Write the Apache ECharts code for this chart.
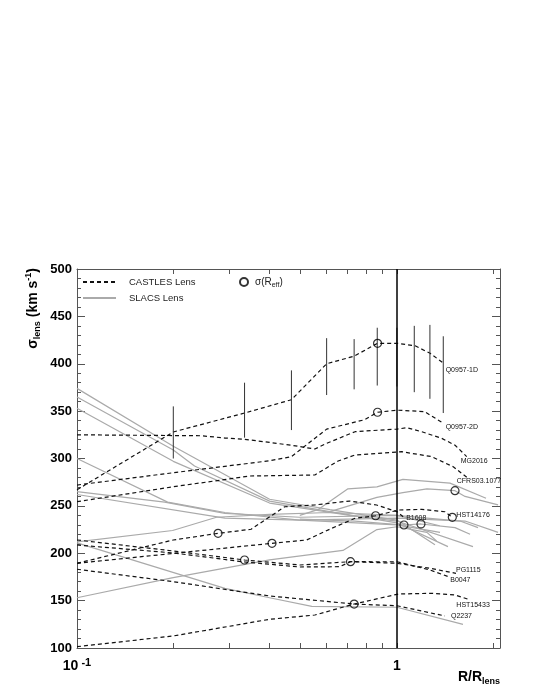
<!DOCTYPE html>
<html>
<head>
<meta charset="utf-8">
<script src="https://cdn.jsdelivr.net/npm/echarts@6/dist/echarts.min.js"></script>
<style>
html, body { margin: 0; padding: 0; background: #fff; }
#chart { width: 540px; height: 699px; }
</style>
</head>
<body>
<div id="chart"></div>
<script>
// CASTLES lenses: [R/Rlens, sigma]
const q0957_1D = [[0.1, 267], [0.2, 328], [0.334, 348], [0.468, 362], [0.603, 400], [0.735, 408], [0.87, 421.6], [1.0, 421.6], [1.14, 419], [1.27, 411], [1.4, 400.5]];
const q0957_2D = [[0.1, 272], [0.2, 285], [0.4, 297.6], [0.468, 302], [0.603, 331], [0.794, 341], [0.87, 348.8], [1.0, 351], [1.22, 349.5], [1.4, 337]];
const mg2016 = [[0.1, 325], [0.245, 324], [0.29, 321.6], [0.334, 320.3], [0.468, 314], [0.554, 310], [0.603, 316], [0.74, 328.3], [0.885, 330], [1.0, 331], [1.073, 332.5], [1.195, 328.3], [1.38, 321.3], [1.52, 314], [1.653, 302]];
const cfrs03 = [[0.1, 254.4], [0.2, 270.2], [0.347, 281.5], [0.554, 282.6], [0.655, 297.4], [0.74, 303.7], [1.034, 307.2], [1.283, 302], [1.5, 291.3], [1.653, 280.2]];
const hst14176 = [[0.1, 189.4], [0.407, 210.5], [0.522, 214], [0.625, 226.3], [0.74, 236.9], [0.858, 239.6], [1.011, 245.6], [1.195, 246.3], [1.413, 243.8], [1.49, 237.9]];
const b1608 = [[0.1, 189.4], [0.2, 214], [0.276, 221], [0.35, 225.3], [0.446, 249.1], [0.554, 251], [0.71, 255.1], [0.864, 250.9], [1.0, 243.9], [1.046, 238.6]];
const pg1115 = [[0.1, 214], [0.2, 202.4], [0.334, 192.9], [0.497, 187.6], [0.716, 191.1], [1.0, 189.4], [1.269, 184.1], [1.53, 178.8]];
const b0047 = [[0.1, 208.7], [0.2, 200.3], [0.334, 190.8], [0.497, 185.5], [0.663, 185.8], [0.716, 191.1], [1.0, 191], [1.269, 182.3], [1.447, 175.3]];
const hst15433 = [[0.1, 101.4], [0.2, 112.7], [0.4, 130.3], [0.554, 134.8], [0.735, 146.4], [1.011, 157], [1.283, 157.7], [1.519, 155.9], [1.672, 151.4]];
const q2237 = [[0.1, 183.1], [0.2, 170], [0.4, 154.9], [0.735, 146.4], [1.0, 144.6], [1.413, 133.8]];

// SLACS lenses
const slacs1 = [[0.1, 374], [0.2, 313], [0.4, 257], [0.617, 246], [1.0, 235], [1.315, 209]];
const slacs2 = [[0.1, 365], [0.2, 309], [0.233, 292], [0.4, 255], [0.617, 244], [1.0, 232], [1.444, 207]];
const slacs3 = [[0.1, 353], [0.2, 297], [0.4, 253], [0.713, 240], [1.0, 234], [1.729, 207]];
const slacs4 = [[0.1, 300], [0.192, 254], [0.29, 243], [0.497, 235], [1.0, 230], [1.364, 222]];
const slacs5 = [[0.1, 265], [0.188, 254], [0.29, 242], [0.497, 238], [1.0, 240], [1.575, 234], [1.793, 227]];
const slacs6 = [[0.1, 262], [0.29, 237], [0.497, 235], [1.0, 237], [1.633, 234], [2.071, 222]];
const slacs7 = [[0.1, 212], [0.199, 224], [0.273, 238], [0.4, 241], [0.617, 243], [1.0, 240], [1.36, 229]];
const slacs8 = [[0.1, 211], [0.29, 163], [0.4, 153], [0.542, 144], [1.0, 143], [1.609, 125]];
const slacs9 = [[0.1, 153], [0.198, 174], [0.4, 193], [0.678, 203], [0.866, 225], [1.0, 228], [1.241, 222], [1.33, 213]];
const slacs10 = [[0.497, 240], [0.566, 246], [0.703, 268], [0.866, 270], [1.044, 278], [1.465, 274], [1.899, 258]];
const slacs11 = [[0.617, 244], [0.866, 259], [1.044, 264], [1.241, 268], [1.519, 266], [1.633, 260], [2.071, 251]];
const slacs12 = [[0.497, 236], [0.739, 234], [1.052, 229.8], [1.189, 230.9], [1.519, 227], [1.693, 220]];

// sigma(R_eff) points
const effPoints = [[0.87, 421.6], [0.87, 348.8], [0.276, 221], [0.407, 210.5], [0.334, 192.9], [0.716, 191.1], [0.735, 146.4], [0.858, 239.6], [1.052, 229.8], [1.189, 230.9], [1.519, 266], [1.49, 237.9]];

// Q0957-1D error bars: [R, low, high]
const errBars = [[0.2, 300, 355], [0.334, 322, 380], [0.468, 330, 393], [0.603, 367, 427], [0.735, 373, 426], [0.868, 377, 438], [1.0, 376, 438], [1.133, 370, 440], [1.268, 363, 441], [1.396, 348, 429]];

const xTickVals = [0.1, 0.2, 0.3, 0.4, 0.5, 0.6, 0.7, 0.8, 0.9, 1, 2];
const xLabelVals = [0.1, 1];

const castles = [
    { name: 'Q0957-1D', data: q0957_1D },
    { name: 'Q0957-2D', data: q0957_2D },
    { name: 'MG2016', data: mg2016 },
    { name: 'CFRS03.1077', data: cfrs03 },
    { name: 'HST14176', data: hst14176 },
    { name: 'B1608', data: b1608 },
    { name: 'PG1115', data: pg1115 },
    { name: 'B0047', data: b0047 },
    { name: 'HST15433', data: hst15433 },
    { name: 'Q2237', data: q2237 }
];
const slacs = [slacs1, slacs2, slacs3, slacs4, slacs5, slacs6, slacs7, slacs8, slacs9, slacs10, slacs11, slacs12];

// where the lens names sit relative to the line ends
const labelOffsets = {
    'Q0957-1D': [2, 7],
    'Q0957-2D': [2, 4],
    'MG2016': [-6, 4],
    'CFRS03.1077': [-10, 4],
    'HST14176': [4, -2],
    'B1608': [3, 1],
    'PG1115': [0, -3],
    'B0047': [2, 3],
    'HST15433': [-12, 6],
    'Q2237': [6, 0]
};

const font = 'Liberation Sans, Arial, Helvetica, sans-serif';
const frameColor = '#555';

let series = [];

slacs.forEach(function (d) {
    series.push({
        type: 'line',
        name: 'SLACS Lens',
        data: d,
        symbol: 'none',
        silent: true,
        z: 2,
        itemStyle: { color: '#aaa' },
        lineStyle: { color: '#aaa', width: 1.2 }
    });
});

castles.forEach(function (c) {
    series.push({
        type: 'line',
        name: 'CASTLES Lens',
        data: c.data,
        symbol: 'none',
        silent: true,
        z: 3,
        itemStyle: { color: '#111' },
        lineStyle: { color: '#111', width: 1.2, type: [4, 3] },
        endLabel: {
            show: true,
            formatter: function () { return c.name; },
            distance: 0,
            offset: labelOffsets[c.name],
            fontSize: 7,
            color: '#111',
            fontFamily: font
        }
    });
});

series.push({
    type: 'custom',
    name: 'errors',
    data: errBars,
    silent: true,
    z: 4,
    encode: { x: 0, y: [1, 2] },
    renderItem: function (params, api) {
        const lo = api.coord([api.value(0), api.value(1)]);
        const hi = api.coord([api.value(0), api.value(2)]);
        return {
            type: 'line',
            shape: { x1: lo[0], y1: lo[1], x2: hi[0], y2: hi[1] },
            style: { stroke: '#333', lineWidth: 1 }
        };
    }
});

series.push({
    type: 'scatter',
    name: 'σ(R_eff)',
    data: effPoints,
    symbol: 'circle',
    symbolSize: 8,
    silent: true,
    z: 5,
    itemStyle: { color: 'rgba(255,255,255,0)', borderColor: '#000', borderWidth: 1.2 },
    markLine: {
        silent: true,
        symbol: 'none',
        label: { show: false },
        lineStyle: { color: '#000', width: 1.5, type: 'solid' },
        data: [{ xAxis: 1 }]
    }
});

function xAxisDef(pos, labels) {
    return {
        type: 'log',
        logBase: 10,
        min: 0.1,
        max: 2.1,
        position: pos,
        axisLine: { show: true, onZero: false, lineStyle: { color: frameColor, width: 1 } },
        axisTick: { show: true, inside: true, length: 5, customValues: xTickVals, lineStyle: { color: frameColor } },
        minorTick: { show: false },
        splitLine: { show: false },
        axisLabel: {
            show: labels,
            customValues: xLabelVals,
            margin: 9,
            formatter: function (v) {
                return v < 0.5 ? '{b|10}{p| -1}' : '{b|1}';
            },
            rich: {
                b: { fontSize: 14, fontWeight: 'bold', color: '#000', fontFamily: font, lineHeight: 18 },
                p: { fontSize: 11, fontWeight: 'bold', color: '#000', fontFamily: font, lineHeight: 10, verticalAlign: 'top' }
            }
        }
    };
}

function yAxisDef(pos, labels) {
    return {
        type: 'value',
        min: 100,
        max: 500,
        interval: 50,
        position: pos,
        axisLine: { show: true, onZero: false, lineStyle: { color: frameColor, width: 1 } },
        axisTick: { show: true, inside: true, length: 8, lineStyle: { color: frameColor } },
        minorTick: { show: true, splitNumber: 5, length: 4, lineStyle: { color: frameColor } },
        splitLine: { show: false },
        axisLabel: { show: labels, fontSize: 13, fontWeight: 'bold', color: '#000', fontFamily: font, margin: 5 }
    };
}

const option = {
    animation: false,
    backgroundColor: '#fff',
    grid: { left: 77, right: 40, top: 269, bottom: 51 },
    xAxis: [xAxisDef('bottom', true), xAxisDef('top', false)],
    yAxis: [yAxisDef('left', true), yAxisDef('right', false)],
    legend: [
        {
            data: ['CASTLES Lens', 'SLACS Lens'],
            orient: 'vertical',
            left: 77,
            top: 272,
            itemWidth: 33,
            itemHeight: 10,
            itemGap: 6,
            selectedMode: false,
            itemStyle: { opacity: 0 },
            textStyle: { fontSize: 9.5, color: '#222', fontFamily: font, padding: [0, 0, 0, 8] }
        },
        {
            data: ['σ(R_eff)'],
            left: 234,
            top: 272,
            itemWidth: 8,
            itemHeight: 8,
            selectedMode: false,
            formatter: function () { return '{n|σ(R}{s|eff}{n|)}'; },
            textStyle: {
                fontSize: 10,
                color: '#222',
                fontFamily: font,
                padding: [0, 0, 0, 2],
                rich: {
                    n: { fontSize: 10, color: '#222', fontFamily: font, lineHeight: 14 },
                    s: { fontSize: 7, color: '#222', fontFamily: font, lineHeight: 7, verticalAlign: 'bottom' }
                }
            }
        }
    ],
    graphic: [
        {
            type: 'text',
            x: 33,
            y: 268,
            rotation: Math.PI / 2,
            style: {
                text: '{a|σ}{s|lens}{a| (km s}{p|-1}{a|)}',
                align: 'right',
                verticalAlign: 'middle',
                rich: {
                    a: { fontSize: 14, fontWeight: 'bold', fill: '#000', fontFamily: font, lineHeight: 18 },
                    s: { fontSize: 9, fontWeight: 'bold', fill: '#000', fontFamily: font, lineHeight: 9, verticalAlign: 'bottom' },
                    p: { fontSize: 9, fontWeight: 'bold', fill: '#000', fontFamily: font, lineHeight: 9, verticalAlign: 'top' }
                }
            }
        },
        {
            type: 'text',
            x: 500,
            y: 677,
            style: {
                text: '{a|R/R}{s|lens}',
                align: 'right',
                verticalAlign: 'middle',
                rich: {
                    a: { fontSize: 14, fontWeight: 'bold', fill: '#000', fontFamily: font, lineHeight: 18 },
                    s: { fontSize: 9, fontWeight: 'bold', fill: '#000', fontFamily: font, lineHeight: 9, verticalAlign: 'bottom' }
                }
            }
        }
    ],
    series: series
};

const chart = echarts.init(document.getElementById('chart'), null, { renderer: 'canvas' });
chart.setOption(option);
</script>
</body>
</html>
